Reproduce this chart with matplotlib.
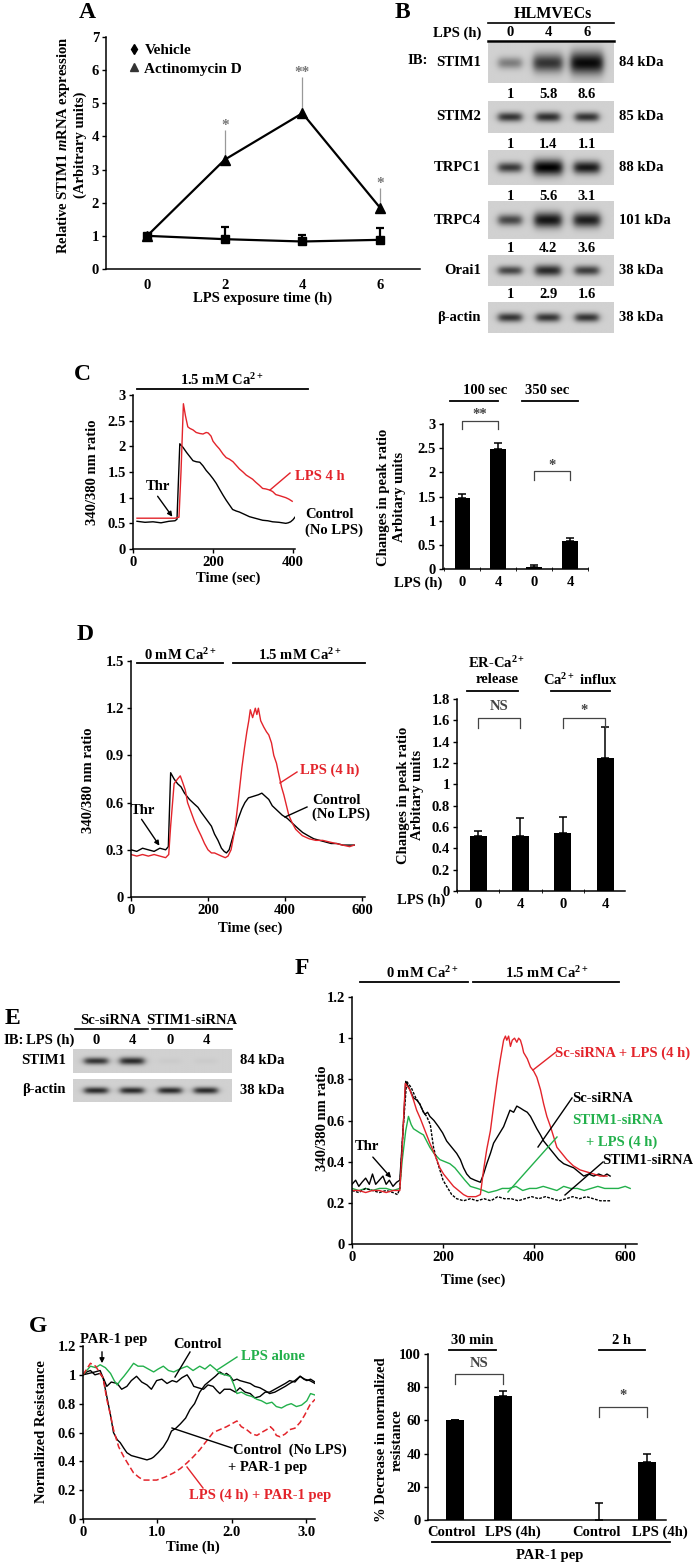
import numpy as np
import matplotlib
matplotlib.use("Agg")
import matplotlib.pyplot as plt
from matplotlib.lines import Line2D
from matplotlib.patches import FancyArrowPatch
from matplotlib.ticker import FuncFormatter

plt.rcParams['font.family'] = ['Liberation Serif', 'DejaVu Serif']
plt.rcParams['font.weight'] = 'bold'
plt.rcParams['mathtext.fontset'] = 'custom'
plt.rcParams['mathtext.rm'] = 'Liberation Serif:bold'
plt.rcParams['mathtext.it'] = 'Liberation Serif:italic:bold'
plt.rcParams['mathtext.bf'] = 'Liberation Serif:bold'

W, H = 693, 1564
RED = '#e3242b'
GREEN = '#22b04b'
CA = 'Ca$^{2+}$'
FS = 10.5   # general text
TS = 10.5   # tick labels

# ---------------- data ----------------
# A: STIM1 mRNA
time_A = [0, 2, 4, 6]
actino = [1.0, 3.3, 4.7, 1.85]
actino_err = [0.1, 0.9, 1.1, 0.6]
actino_sig = ['', '*', '**', '*']
vehicle = [1.0, 0.9, 0.83, 0.88]
vehicle_err = [0.05, 0.38, 0.21, 0.36]

# B: western blots (densitometry)
blot_rows = ['STIM1', 'STIM2', 'TRPC1', 'TRPC4', 'Orai1', 'β-actin']
blot_kda = ['84 kDa', '85 kDa', '88 kDa', '101 kDa', '38 kDa', '38 kDa']
blot_vals = [[1, 5.8, 8.6], [1, 1.4, 1.1], [1, 5.6, 3.1],
             [1, 4.2, 3.6], [1, 2.9, 1.6], [1, 1, 1]]
blot_lps = ['0', '4', '6']

# C: Ca2+ traces
tC_ctrl = [10, 30, 50, 70, 90, 105, 110, 117, 125, 134, 142, 150, 158, 167, 175, 183, 192, 200,
           208, 216, 225, 233, 241, 249, 258, 266, 280, 291, 305, 324, 337, 349, 365, 382, 388,
           394, 400, 406]
vC_ctrl = [0.54, 0.52, 0.53, 0.51, 0.54, 0.55, 0.58, 2.05, 1.98, 1.88, 1.80, 1.72, 1.70, 1.69,
           1.62, 1.53, 1.45, 1.37, 1.28, 1.17, 1.05, 0.95, 0.86, 0.77, 0.74, 0.72, 0.67, 0.63,
           0.60, 0.56, 0.55, 0.53, 0.52, 0.50, 0.51, 0.53, 0.57, 0.63]
tC_lps = [10, 30, 50, 70, 90, 105, 115, 120, 126, 131, 137, 142, 150, 158, 167, 175, 183, 188,
          195, 200, 208, 216, 225, 233, 241, 250, 258, 266, 275, 283, 291, 299, 307, 316, 324,
          332, 341, 349, 357, 366, 374, 382, 390, 398]
vC_lps = [0.6, 0.6, 0.6, 0.6, 0.6, 0.6, 0.62, 1.5, 2.83, 2.6, 2.38, 2.35, 2.32, 2.27, 2.25,
          2.24, 2.27, 2.26, 2.2, 2.1, 2.02, 1.95, 1.85, 1.78, 1.75, 1.70, 1.63, 1.56, 1.50,
          1.44, 1.40, 1.36, 1.30, 1.24, 1.18, 1.17, 1.15, 1.12, 1.06, 1.04, 1.02, 1.00, 0.97,
          0.93]
C_bar = [1.47, 2.48, 0.05, 0.58]
C_err = [0.08, 0.12, 0.03, 0.06]
lps_labels = ['0', '4', '0', '4']

# D: Ca2+ traces, 0 then 1.5 mM
tD_ctrl = [0, 15, 30, 45, 60, 75, 90, 97, 103, 112, 121, 130, 139, 152, 165, 174, 182, 191,
           200, 209, 217, 226, 235, 242, 248, 255, 262, 270, 279, 288, 296, 305, 318, 331, 340,
           349, 358, 367, 380, 393, 406, 419, 432, 446, 460, 475, 490, 505, 520, 535, 550, 565,
           580]
vD_ctrl = [0.30, 0.29, 0.31, 0.30, 0.29, 0.31, 0.30, 0.32, 0.79, 0.75, 0.72, 0.70, 0.66, 0.62,
           0.59, 0.57, 0.54, 0.51, 0.48, 0.45, 0.40, 0.36, 0.31, 0.29, 0.28, 0.30, 0.36, 0.43,
           0.50, 0.56, 0.60, 0.63, 0.64, 0.65, 0.66, 0.64, 0.62, 0.58, 0.55, 0.52, 0.50, 0.47,
           0.44, 0.41, 0.39, 0.37, 0.36, 0.35, 0.34, 0.34, 0.33, 0.33, 0.33]
tD_lps = [0, 15, 30, 45, 60, 75, 90, 98, 103, 112, 121, 128, 134, 141, 147, 156, 165, 174, 182,
          191, 200, 209, 217, 226, 235, 245, 252, 260, 270, 279, 288, 295, 301, 306, 310, 316,
          323, 327, 331, 337, 345, 352, 358, 365, 371, 378, 384, 391, 397, 404, 410, 419, 428,
          445, 463, 480, 498, 515, 533, 550, 568, 580]
vD_lps = [0.27, 0.26, 0.27, 0.26, 0.27, 0.26, 0.25, 0.27, 0.45, 0.72, 0.75, 0.77, 0.73, 0.68,
          0.60, 0.54, 0.48, 0.43, 0.39, 0.34, 0.30, 0.28, 0.28, 0.27, 0.26, 0.25, 0.26, 0.30,
          0.43, 0.62, 0.82, 0.95, 1.05, 1.12, 1.19, 1.14, 1.20, 1.16, 1.20, 1.12, 1.08, 1.05,
          1.03, 0.98, 0.90, 0.85, 0.78, 0.70, 0.65, 0.58, 0.52, 0.47, 0.43, 0.39, 0.37, 0.36,
          0.36, 0.35, 0.34, 0.33, 0.32, 0.33]
D_bar = [0.52, 0.52, 0.54, 1.25]
D_err = [0.04, 0.16, 0.15, 0.29]

# E: siRNA knockdown blot
E_groups = ['Sc-siRNA', 'STIM1-siRNA']
E_lps = ['0', '4', '0', '4']
E_stim1 = [1.0, 1.6, 0.04, 0.04]
E_actin = [1, 1, 1, 1]

# F: Ca2+ traces with siRNA
tF_sc = [0, 8, 15, 22, 30, 38, 45, 52, 60, 68, 75, 82, 90, 98, 105, 112, 118, 125, 135, 142,
         149, 155, 160, 166, 171, 180, 190, 199, 208, 219, 230, 238, 245, 252, 260, 270, 282,
         289, 296, 304, 311, 322, 333, 340, 347, 355, 362, 370, 377, 385, 392, 399, 406, 414,
         421, 432, 443, 454, 465, 476, 487, 498, 509, 520, 531, 542, 553, 560, 567]
vF_sc = [0.29, 0.31, 0.28, 0.30, 0.32, 0.29, 0.34, 0.29, 0.31, 0.33, 0.29, 0.31, 0.28, 0.30,
         0.31, 0.55, 0.79, 0.76, 0.71, 0.70, 0.68, 0.65, 0.63, 0.64, 0.62, 0.60, 0.57, 0.54,
         0.50, 0.47, 0.44, 0.41, 0.37, 0.34, 0.32, 0.31, 0.30, 0.34, 0.39, 0.44, 0.49, 0.53,
         0.57, 0.61, 0.65, 0.64, 0.67, 0.66, 0.65, 0.64, 0.62, 0.59, 0.56, 0.53, 0.50, 0.47,
         0.44, 0.41, 0.39, 0.38, 0.37, 0.35, 0.33, 0.34, 0.33, 0.34, 0.33, 0.34, 0.33]
tF_sc_lps = [0, 15, 30, 45, 60, 75, 90, 105, 110, 117, 127, 135, 142, 150, 157, 164, 171, 179,
             186, 193, 201, 212, 223, 234, 245, 254, 263, 272, 282, 289, 296, 304, 311, 319,
             326, 333, 337, 340, 344, 348, 352, 357, 362, 366, 370, 374, 377, 385, 392, 399,
             406, 414, 421, 428, 436, 443, 450, 461, 472, 486, 501, 516, 531, 545, 560]
vF_sc_lps = [0.26, 0.26, 0.25, 0.26, 0.26, 0.25, 0.26, 0.26, 0.45, 0.78, 0.75, 0.70, 0.65,
             0.61, 0.57, 0.53, 0.49, 0.45, 0.41, 0.37, 0.34, 0.31, 0.28, 0.26, 0.24, 0.23,
             0.23, 0.23, 0.24, 0.36, 0.46, 0.55, 0.67, 0.80, 0.90, 0.99, 1.01, 0.99, 1.01,
             0.96, 0.99, 1.00, 0.98, 1.00, 0.99, 0.96, 0.93, 0.90, 0.86, 0.84, 0.81, 0.75,
             0.68, 0.62, 0.57, 0.52, 0.47, 0.44, 0.41, 0.38, 0.36, 0.35, 0.34, 0.33, 0.33]
tF_si_lps = [0, 15, 30, 45, 60, 75, 90, 105, 110, 118, 124, 130, 135, 142, 149, 157, 164, 171,
             180, 193, 204, 215, 226, 237, 248, 260, 275, 289, 300, 318, 330, 345, 360, 375,
             390, 405, 420, 435, 450, 465, 480, 495, 510, 525, 540, 555, 570, 585, 600, 611]
vF_si_lps = [0.27, 0.26, 0.27, 0.26, 0.27, 0.27, 0.26, 0.27, 0.40, 0.55, 0.62, 0.58, 0.56,
             0.55, 0.54, 0.53, 0.50, 0.47, 0.44, 0.41, 0.40, 0.39, 0.37, 0.34, 0.31, 0.28,
             0.27, 0.26, 0.25, 0.26, 0.27, 0.27, 0.28, 0.26, 0.27, 0.27, 0.28, 0.27, 0.26,
             0.28, 0.27, 0.27, 0.26, 0.27, 0.28, 0.27, 0.27, 0.27, 0.28, 0.27]
tF_si = [0, 15, 30, 45, 60, 75, 90, 100, 105, 112, 120, 130, 140, 149, 157, 164, 172, 179, 186,
         193, 200, 208, 219, 230, 245, 260, 275, 290, 305, 320, 335, 350, 365, 380, 395, 410,
         425, 440, 455, 470, 485, 500, 515, 530, 545, 560, 567]
vF_si = [0.26, 0.25, 0.27, 0.26, 0.25, 0.26, 0.25, 0.24, 0.27, 0.55, 0.79, 0.76, 0.71, 0.68,
         0.64, 0.62, 0.58, 0.47, 0.41, 0.36, 0.31, 0.28, 0.24, 0.22, 0.21, 0.22, 0.21, 0.22,
         0.21, 0.23, 0.22, 0.22, 0.21, 0.22, 0.23, 0.22, 0.23, 0.22, 0.21, 0.22, 0.23, 0.22,
         0.23, 0.22, 0.21, 0.21, 0.21]

# G: normalized resistance
tG_ctrl = [0, 0.05, 0.1, 0.16, 0.23, 0.28, 0.32, 0.38, 0.46, 0.52, 0.59, 0.65, 0.72, 0.79,
           0.86, 0.92, 0.99, 1.06, 1.13, 1.2, 1.26, 1.33, 1.40, 1.45, 1.49, 1.55, 1.62, 1.68,
           1.75, 1.8, 1.84, 1.9, 1.98, 2.05, 2.11, 2.18, 2.25, 2.31, 2.38, 2.45, 2.51, 2.58,
           2.65, 2.72, 2.78, 2.85, 2.92, 2.97, 3.01, 3.06, 3.12]
vG_ctrl = [1.0, 1.02, 1.03, 1.0, 1.01, 0.97, 0.92, 0.95, 0.94, 0.90, 0.92, 0.96, 0.99, 0.95,
           0.93, 0.90, 0.96, 0.97, 0.94, 0.96, 0.95, 0.98, 1.0, 0.96, 0.92, 0.91, 0.90, 0.93,
           0.92, 0.89, 0.87, 0.90, 0.90, 0.88, 0.91, 0.88, 0.87, 0.84, 0.85, 0.88, 0.88, 0.90,
           0.92, 0.94, 0.96, 0.95, 0.99, 0.97, 0.96, 0.97, 0.95]
tG_par = [0, 0.08, 0.16, 0.23, 0.27, 0.32, 0.37, 0.41, 0.46, 0.5, 0.55, 0.59, 0.65, 0.72, 0.79,
          0.86, 0.92, 0.95, 1.01, 1.08, 1.14, 1.19, 1.25, 1.31, 1.38, 1.44, 1.5, 1.57, 1.64,
          1.71, 1.78, 1.84, 1.9, 1.93, 1.98, 2.02, 2.07, 2.11, 2.18, 2.25, 2.31, 2.38, 2.45,
          2.51, 2.58, 2.65, 2.72, 2.78, 2.85, 2.92, 2.98, 3.05, 3.12]
vG_par = [1.0, 1.01, 1.02, 1.03, 0.98, 0.85, 0.72, 0.60, 0.55, 0.53, 0.49, 0.46, 0.44, 0.43,
          0.42, 0.41, 0.42, 0.43, 0.46, 0.50, 0.55, 0.61, 0.63, 0.66, 0.70, 0.76, 0.80, 0.88,
          0.93, 0.96, 0.99, 1.02, 1.0, 1.01, 0.99, 0.96, 0.97, 0.96, 0.95, 0.94, 0.92, 0.91,
          0.89, 0.87, 0.88, 0.90, 0.92, 0.94, 0.96, 0.99, 0.97, 0.96, 0.94]
tG_lps = [0, 0.05, 0.1, 0.17, 0.23, 0.3, 0.37, 0.42, 0.46, 0.5, 0.55, 0.61, 0.68, 0.74, 0.81,
          0.88, 0.95, 1.01, 1.08, 1.15, 1.22, 1.3, 1.40, 1.48, 1.57, 1.64, 1.71, 1.78, 1.84,
          1.91, 1.98, 2.03, 2.07, 2.13, 2.2, 2.27, 2.34, 2.4, 2.47, 2.54, 2.6, 2.67, 2.74, 2.8,
          2.87, 2.94, 3.01, 3.06, 3.12]
vG_lps = [1.0, 1.03, 1.06, 1.05, 1.07, 1.05, 1.01, 0.96, 0.93, 0.96, 0.99, 1.03, 1.08, 1.06,
          1.06, 1.04, 1.02, 1.04, 1.06, 1.03, 1.02, 1.04, 1.06, 1.03, 1.06, 1.04, 1.07, 1.04,
          1.01, 1.0, 0.99, 0.93, 0.87, 0.88, 0.86, 0.85, 0.83, 0.82, 0.80, 0.81, 0.78, 0.77,
          0.79, 0.80, 0.78, 0.79, 0.82, 0.87, 0.86]
tG_lps_par = [0, 0.1, 0.17, 0.23, 0.27, 0.32, 0.37, 0.41, 0.48, 0.55, 0.62, 0.68, 0.75, 0.81,
              0.9, 0.99, 1.1, 1.22, 1.31, 1.40, 1.48, 1.57, 1.66, 1.75, 1.84, 1.93, 2.0, 2.07,
              2.13, 2.2, 2.27, 2.34, 2.4, 2.47, 2.52, 2.56, 2.6, 2.65, 2.72, 2.78, 2.85, 2.92,
              2.98, 3.05, 3.12]
vG_lps_par = [1.0, 1.08, 1.06, 1.01, 0.98, 0.83, 0.72, 0.62, 0.50, 0.43, 0.37, 0.32, 0.29,
              0.27, 0.27, 0.27, 0.29, 0.32, 0.35, 0.39, 0.43, 0.48, 0.54, 0.60, 0.62, 0.64,
              0.66, 0.68, 0.64, 0.62, 0.59, 0.58, 0.60, 0.62, 0.64, 0.62, 0.58, 0.57, 0.59,
              0.62, 0.63, 0.67, 0.72, 0.79, 0.83]
G_bar = [60, 75, 0, 35]
G_err = [0.5, 2.5, 10, 5]
G_labels = ['Control', 'LPS (4h)', 'Control', 'LPS (4h)']

# ---------------- helpers ----------------
fig = plt.figure(figsize=(W / 100, H / 100), dpi=100)


def box(x0, y0, x1, y1):
    return fig.add_axes([x0 / W, 1 - y1 / H, (x1 - x0) / W, (y1 - y0) / H])


def txt(x, y, s, size=FS, ha='center', color='black', **kw):
    fig.text(x / W, 1 - y / H, s, fontsize=size, ha=ha, va='center', color=color,
             fontweight='bold', **kw)


def seg(x0, y0, x1, y1, color='black', lw=1.0, arrow=False):
    a, b = (x0 / W, 1 - y0 / H), (x1 / W, 1 - y1 / H)
    if arrow:
        fig.add_artist(FancyArrowPatch(a, b, transform=fig.transFigure, arrowstyle='-|>',
                                       mutation_scale=7, color=color, lw=lw))
    else:
        fig.add_artist(Line2D([a[0], b[0]], [a[1], b[1]], transform=fig.transFigure,
                              color=color, lw=lw))


def style(ax):
    for s in ('top', 'right'):
        ax.spines[s].set_visible(False)
    for s in ('left', 'bottom'):
        ax.spines[s].set_linewidth(1.1)
    ax.tick_params(direction='out', length=3, width=1.0, labelsize=TS, pad=2)
    ax.yaxis.set_major_formatter(FuncFormatter(lambda v, p: f'{v:g}'))


def bracket(ax, x1, x2, top, low, label, ly, color='#444444'):
    ax.plot([x1, x1, x2, x2], [low, top, top, low], color=color, lw=0.9, clip_on=False)
    ax.text((x1 + x2) / 2, ly, label, ha='center', va='center', fontsize=FS,
            fontweight='bold', color=color)


def bars(ax, vals, errs, width, labels):
    pos = np.arange(1, len(vals) + 1)
    ax.bar(pos, vals, width=width, color='black')
    ax.errorbar(pos, vals, yerr=[np.zeros(len(vals)), errs], fmt='none', ecolor='black',
                elinewidth=1.1, capsize=3, capthick=1.1)
    ax.set_xticks(pos, labels)
    ax.tick_params(axis='x', length=0, pad=5)
    ax.set_xticks(np.arange(0.5, len(vals) + 1), minor=True)
    ax.tick_params(axis='x', which='minor', length=3, direction='inout')
    return pos


def blot(ax, lanes, vals, span, base):
    x = np.linspace(span[0], span[1], 300)
    y = np.linspace(0, 1, 60)
    X, Y = np.meshgrid(x, y)
    img = np.full(X.shape, 0.82)
    for cx, v in zip(lanes, vals):
        dark = min(0.82, base * min(v, 1) + 0.06 * max(v - 1, 0))
        half = 11 + 0.6 * v
        sig = 0.13 + 0.018 * v
        px = 1 / (1 + np.exp((np.abs(X - cx) - half) / 2.0))
        py = np.exp(-((Y - 0.5) / sig) ** 2)
        img = img - dark * px * py
    ax.imshow(np.clip(img, 0, 1), cmap='gray', vmin=0, vmax=1, aspect='auto',
              extent=(span[0], span[1], 0, 1), interpolation='bilinear')
    ax.set_axis_off()


# ---------------- A ----------------
ax = box(106, 37, 420, 269)
style(ax)
ax.errorbar(time_A, vehicle, yerr=[np.zeros(4), vehicle_err], color='black', lw=1.6,
            marker='s', ms=6, elinewidth=1.6, capsize=3, capthick=1.6)
ax.errorbar(time_A, actino, yerr=[np.zeros(4), actino_err], color='black', lw=1.6,
            marker='^', ms=7, ecolor='#999999', elinewidth=0.9, capsize=0)
for t, v, e, s in zip(time_A, actino, actino_err, actino_sig):
    ax.text(t, v + e + 0.12, s, ha='center', va='center', fontsize=11, color='#777777')
ax.set_xlim(-1.06, 7.03)
ax.set_ylim(0, 7)
ax.set_xticks(time_A)
ax.set_yticks(range(8))
ax.tick_params(axis='x', length=0, pad=7)
ax.legend(handles=[Line2D([], [], marker='d', color='black', ls='none', ms=5),
                   Line2D([], [], marker='^', color='#333333', ls='none', ms=6)],
          labels=['Vehicle', 'Actinomycin D'], loc='upper left', bbox_to_anchor=(0.03, 1.03),
          frameon=False, handlelength=0.6, handletextpad=0.4, labelspacing=0.3,
          prop={'weight': 'bold', 'size': 11})
txt(87, 12, 'A', 17)
txt(63, 145, 'Relative STIM1 $\\mathit{m}$RNA expression', FS, rotation=90)
txt(80, 145, '(Arbitrary units)', FS, rotation=90)
txt(263, 298, 'LPS exposure time (h)', FS)

# ---------------- B ----------------
lane_B = [510, 548, 587]
row_y = [(43, 83), (101, 133), (150, 185), (201, 239), (255, 286), (302, 333)]
row_base = [0.33, 0.62, 0.6, 0.55, 0.55, 0.62]
num_y = [94, 144, 196, 248, 295]
txt(402, 13, 'B', 17)
txt(553, 14, 'HLMVECs', 11.5)
seg(488, 23, 614, 23, lw=1.2)
txt(457, 33, 'LPS (h)', FS)
for lx, s in zip(lane_B, blot_lps):
    txt(lx, 33, s, FS)
seg(488, 41, 614, 41, lw=1.8)
txt(418, 60, 'IB:', FS)
for i, (name, kda, vals) in enumerate(zip(blot_rows, blot_kda, blot_vals)):
    y0, y1 = row_y[i]
    bax = box(488, y0, 614, y1)
    blot(bax, lane_B, vals, (488, 614), row_base[i])
    txt(481, (y0 + y1) / 2, name, FS, ha='right')
    txt(619, (y0 + y1) / 2, kda, FS, ha='left')
    if i < len(num_y):
        for lx, v in zip(lane_B, vals):
            txt(lx, num_y[i], f'{v:g}', FS)

# ---------------- C ----------------
ax = box(133, 395, 295, 549)
style(ax)
ax.plot(tC_ctrl, vC_ctrl, color='black', lw=1.0)
ax.plot(tC_lps, vC_lps, color=RED, lw=1.0)
ax.set_xlim(0, 405)
ax.set_ylim(0, 3)
ax.set_xticks([0, 200, 400])
ax.set_yticks(np.arange(0, 3.01, 0.5))
txt(82, 375, 'C', 17)
txt(222, 380, '1.5 mM ' + CA, FS)
seg(137, 389, 308, 389, lw=1.3)
txt(92, 472, '340/380 nm ratio', FS, rotation=90)
txt(228, 578, 'Time (sec)', FS)
txt(158, 487, 'Thr', FS)
seg(156, 494, 174, 519, arrow=True)
txt(295, 477, 'LPS 4 h', FS, ha='left', color=RED)
seg(270, 490, 290, 473, color=RED)
txt(305, 515, 'Control', FS, ha='left')
txt(305, 530, '(No LPS)', FS, ha='left')

ax = box(443, 424, 588, 569)
style(ax)
bars(ax, C_bar, C_err, 0.42, lps_labels)
ax.set_xlim(0.47, 4.5)
ax.set_ylim(0, 3)
ax.set_yticks(np.arange(0, 3.01, 0.5))
bracket(ax, 1, 2, 3.07, 2.89, '**', 3.19)
bracket(ax, 3, 4, 2.02, 1.85, '*', 2.14)
txt(418, 583, 'LPS (h)', FS)
txt(485, 391, '100 sec', FS)
seg(450, 401, 498, 401, lw=1.3)
txt(547, 391, '350 sec', FS)
seg(522, 401, 578, 401, lw=1.3)
txt(383, 497, 'Changes in peak ratio', FS, rotation=90)
txt(400, 497, 'Arbitary units', FS, rotation=90)

# ---------------- D ----------------
ax = box(131, 661, 365, 897)
style(ax)
ax.plot(tD_ctrl, vD_ctrl, color='black', lw=1.0)
ax.plot(tD_lps, vD_lps, color=RED, lw=1.0)
ax.set_xlim(0, 608)
ax.set_ylim(0, 1.5)
ax.set_xticks([0, 200, 400, 600])
ax.set_yticks(np.arange(0, 1.51, 0.3))
txt(85, 635, 'D', 17)
txt(180, 655, '0 mM ' + CA, FS)
seg(137, 663, 223, 663, lw=1.3)
txt(300, 655, '1.5 mM ' + CA, FS)
seg(233, 663, 365, 663, lw=1.3)
txt(88, 780, '340/380 nm ratio', FS, rotation=90)
txt(250, 928, 'Time (sec)', FS)
txt(143, 810, 'Thr', FS)
seg(140, 817, 161, 848, arrow=True)
txt(300, 770, 'LPS (4 h)', FS, ha='left', color=RED)
seg(280, 783, 297, 772, color=RED)
txt(312, 800, 'Control', FS, ha='left')
txt(312, 814, '(No LPS)', FS, ha='left')
seg(285, 817, 307, 807)

ax = box(457, 699, 625, 891)
style(ax)
bars(ax, D_bar, D_err, 0.40, lps_labels)
ax.set_xlim(0.5, 4.47)
ax.set_ylim(0, 1.8)
ax.set_yticks(np.arange(0, 1.81, 0.2))
bracket(ax, 1, 2, 1.62, 1.53, 'NS', 1.73)
bracket(ax, 3, 4, 1.62, 1.53, '*', 1.69)
txt(421, 900, 'LPS (h)', FS)
txt(497, 663, 'ER-' + CA, FS)
txt(497, 680, 'release', FS)
seg(467, 691, 518, 691, lw=1.3)
txt(580, 680, CA + ' influx', FS)
seg(551, 691, 610, 691, lw=1.3)
txt(403, 795, 'Changes in peak ratio', FS, rotation=90)
txt(418, 795, 'Arbitary units', FS, rotation=90)

# ---------------- E ----------------
lane_E = [96, 132, 170, 206]
txt(12, 1018, 'E', 17)
txt(111, 1021, E_groups[0], FS)
txt(192, 1021, E_groups[1], FS)
seg(75, 1029, 148, 1029, lw=1.2)
seg(152, 1029, 232, 1029, lw=1.2)
txt(14, 1040, 'IB:', FS)
txt(50, 1040, 'LPS (h)', FS)
for lx, s in zip(lane_E, E_lps):
    txt(lx, 1040, s, FS)
bax = box(73, 1049, 232, 1073)
blot(bax, lane_E, E_stim1, (73, 232), 0.62)
txt(66, 1061, 'STIM1', FS, ha='right')
txt(240, 1061, '84 kDa', FS, ha='left')
bax = box(73, 1079, 232, 1102)
blot(bax, lane_E, E_actin, (73, 232), 0.66)
txt(66, 1090, 'β-actin', FS, ha='right')
txt(240, 1090, '38 kDa', FS, ha='left')

# ---------------- F ----------------
ax = box(352, 997, 637, 1244)
style(ax)
ax.plot(tF_si_lps, vF_si_lps, color=GREEN, lw=1.0)
ax.plot(tF_si, vF_si, color='black', lw=1.0, ls=(0, (2, 1)))
ax.plot(tF_sc, vF_sc, color='black', lw=1.0)
ax.plot(tF_sc_lps, vF_sc_lps, color=RED, lw=1.0)
ax.set_xlim(0, 626)
ax.set_ylim(0, 1.2)
ax.set_xticks([0, 200, 400, 600])
ax.set_yticks(np.arange(0, 1.21, 0.2))
txt(302, 969, 'F', 17)
txt(422, 973, '0 mM ' + CA, FS)
seg(360, 982, 468, 982, lw=1.3)
txt(547, 973, '1.5 mM ' + CA, FS)
seg(473, 982, 619, 982, lw=1.3)
txt(322, 1118, '340/380 nm ratio', FS, rotation=90)
txt(473, 1280, 'Time (sec)', FS)
txt(367, 1147, 'Thr', FS)
seg(371, 1155, 393, 1180, arrow=True)
txt(555, 1053, 'Sc-siRNA + LPS (4 h)', FS, ha='left', color=RED)
seg(533, 1070, 556, 1052, color=RED)
txt(572, 1098, 'Sc-siRNA', FS, ha='left')
seg(538, 1147, 572, 1098)
txt(618, 1121, 'STIM1-siRNA', FS, color=GREEN)
txt(622, 1142, '+ LPS (4 h)', FS, color=GREEN)
seg(508, 1192, 557, 1137, color=GREEN)
txt(602, 1160, 'STIM1-siRNA', FS, ha='left')
seg(565, 1195, 603, 1162)

# ---------------- G ----------------
ax = box(83, 1346, 315, 1519)
style(ax)
ax.plot(tG_ctrl, vG_ctrl, color='black', lw=1.0)
ax.plot(tG_par, vG_par, color='black', lw=1.0)
ax.plot(tG_lps, vG_lps, color=GREEN, lw=1.0)
ax.plot(tG_lps_par, vG_lps_par, color=RED, lw=1.1, ls=(0, (4, 2)))
ax.set_xlim(0, 3.12)
ax.set_ylim(0, 1.2)
ax.set_xticks([0, 1, 2, 3], ['0', '1.0', '2.0', '3.0'])
ax.set_yticks(np.arange(0, 1.21, 0.2))
txt(38, 1327, 'G', 17)
txt(114, 1340, 'PAR-1 pep', FS)
seg(102, 1349, 102, 1366, arrow=True)
txt(197, 1345, 'Control', FS)
seg(190, 1352, 175, 1377)
txt(273, 1356, 'LPS alone', FS, color=GREEN)
seg(237, 1357, 217, 1370, color=GREEN)
txt(290, 1450, 'Control  (No LPS)', FS)
txt(268, 1468, '+ PAR-1 pep', FS)
seg(172, 1428, 232, 1448)
txt(260, 1495, 'LPS (4 h) + PAR-1 pep', FS, color=RED)
seg(187, 1467, 203, 1488, color=RED)
txt(42, 1432, 'Normalized Resistance', FS, rotation=90)
txt(193, 1547, 'Time (h)', FS)

ax = box(428, 1354, 666, 1520)
style(ax)
pos_G = [1, 2, 4, 5]
ax.bar(pos_G, G_bar, width=0.38, color='black')
ax.errorbar(pos_G, G_bar, yerr=[np.zeros(4), G_err], fmt='none', ecolor='black',
            elinewidth=1.1, capsize=3, capthick=1.1)
ax.set_xticks([0.94, 2.21, 3.96, 5.27], G_labels)
ax.tick_params(axis='x', length=0, pad=4)
ax.set_xlim(0.44, 5.4)
ax.set_ylim(0, 100)
ax.set_yticks(range(0, 101, 20))
bracket(ax, 1, 2, 88, 82, 'NS', 94)
bracket(ax, 4, 5, 68, 62, '*', 75)
txt(472, 1340, '30 min', FS)
seg(449, 1350, 496, 1350, lw=1.3)
txt(622, 1340, '2 h', FS)
seg(599, 1350, 645, 1350, lw=1.3)
seg(432, 1542, 670, 1542, lw=1.3)
txt(550, 1555, 'PAR-1 pep', FS)
txt(382, 1440, '% Decrease in normalized', FS, rotation=90)
txt(397, 1440, 'resistance', FS, rotation=90)

fig.savefig('out.png', dpi=100)
